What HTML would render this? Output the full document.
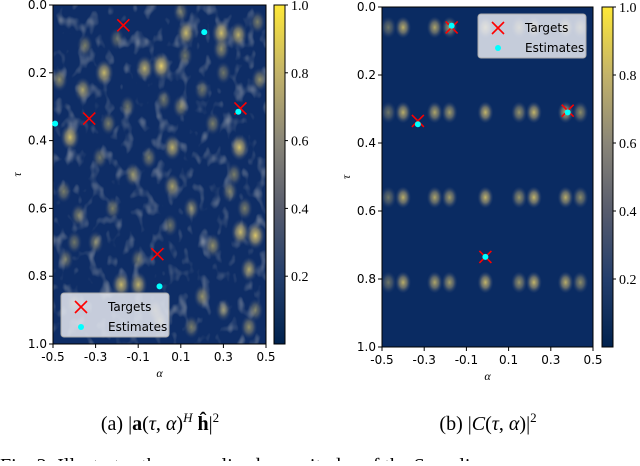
<!DOCTYPE html>
<html><head><meta charset="utf-8"><style>
body{margin:0;background:#fff;width:640px;height:461px;overflow:hidden}
svg text{font-family:"DejaVu Sans","Liberation Sans",sans-serif}
.ser{font-family:"Liberation Serif",serif}
</style></head><body>
<svg id="s" width="640" height="461">
<defs>
<linearGradient id="cb" x1="0" y1="1" x2="0" y2="0">
<stop offset="0" stop-color="#00224e"/><stop offset="0.2" stop-color="#233e6c"/>
<stop offset="0.4" stop-color="#575c6d"/><stop offset="0.6" stop-color="#8a8678"/>
<stop offset="0.8" stop-color="#c3b369"/><stop offset="1" stop-color="#fee838"/></linearGradient>
<radialGradient id="bl"><stop offset="0" stop-color="#e6cf6a" stop-opacity="1"/><stop offset="0.5" stop-color="#a89c72" stop-opacity="0.7"/><stop offset="1" stop-color="#3a4e78" stop-opacity="0"/></radialGradient>
<clipPath id="cl"><rect x="53" y="5" width="213" height="339"/></clipPath>
<clipPath id="cr"><rect x="382" y="7" width="211" height="340"/></clipPath>
<filter id="tex" x="0" y="0" width="100%" height="100%">
<feTurbulence type="fractalNoise" baseFrequency="0.09 0.06" numOctaves="2" seed="7"/>
<feColorMatrix type="matrix" values="0 0 0 0 0.42  0 0 0 0 0.44  0 0 0 0 0.46  0 0 0 2.4 -1.3"/>
</filter>
</defs>
<g id="L"></g>
<g id="R"></g>
<text class="ser" x="160" y="430" font-size="20" text-anchor="middle">(a) |<tspan font-weight="bold">a</tspan>(<tspan font-style="italic">τ</tspan>, <tspan font-style="italic">α</tspan>)<tspan dy="-8" font-size="13" font-style="italic">H</tspan><tspan dy="8" font-weight="bold"> ĥ</tspan>|<tspan dy="-8" font-size="13">2</tspan></text>
<text class="ser" x="488" y="430" font-size="20" text-anchor="middle">(b) |<tspan font-style="italic">C</tspan>(<tspan font-style="italic">τ</tspan>, <tspan font-style="italic">α</tspan>)|<tspan dy="-8" font-size="13">2</tspan></text>
<text class="ser" x="0" y="472" font-size="20">Fig. 2: Illustrates the normalized magnitudes of the Sampling</text>
</svg>
<script>
const ticksX=[-0.5,-0.3,-0.1,0.1,0.3,0.5];
const ticksY=[0.0,0.2,0.4,0.6,0.8,1.0];
const cbTicks=[0.2,0.4,0.6,0.8,1.0];
const blobsA=[-0.47,-0.42,-0.36,-0.26,-0.07,0.008,0.125,0.29,0.37,0.29,0.47,0.06,0.375,-0.125,0.06,0.45,0.38,0.25,0.42,-0.18,-0.1,0,0.2,0.42,-0.3,-0.22,0.15,0.33,-0.45,-0.05,0.1,0.25,-0.35,-0.4,0.3,0.45,-0.15,0.15,-0.28,0.05,0.35,-0.4,0.2,-0.1,0.4,-0.2,0.1,-0.24,0.02,0.3,-0.38,0.12,-0.02,0.46,-0.44];
const blobsT=[0.22,0.39,0.25,0.2,0.187,0.18,0.083,0.083,0.088,0.13,0.22,0.42,0.42,0.5,0.535,0.68,0.67,0.71,0.78,0.825,0.825,0.93,0.86,0.95,0.7,0.6,0.6,0.55,0.55,0.45,0.3,0.35,0.12,0.88,0.9,0.9,0.3,0.95,0.45,0.65,0.5,0.7,0.25,0.75,0.6,0.1,0.02,0.35,0.28,0.2,0.62,0.15,0.9,0.05,0.75];
const blobsV=[0.6,0.9,0.7,0.85,0.8,1,0.85,0.9,0.8,0.6,0.6,0.8,0.9,0.6,0.7,0.95,0.85,0.6,0.7,0.85,0.8,0.6,0.6,0.6,0.5,0.5,0.55,0.5,0.5,0.5,0.55,0.5,0.5,0.5,0.5,0.5,0.45,0.5,0.45,0.45,0.5,0.45,0.45,0.45,0.5,0.4,0.45,0.5,0.45,0.45,0.5,0.45,0.5,0.5,0.45];
const gridA=[-0.47,-0.40,-0.25,-0.18,-0.01,0.15,0.22,0.37,0.44];
const gridT=[0.06,0.31,0.56,0.81];
const gridV=[0.45,0.8,0.75,0.7,0.85,0.65,0.85,0.8,0.6];
const targetsA=[-0.17,-0.33,0.38,-0.01];
const targetsT=[0.06,0.335,0.305,0.735];
const estLA=[0.21,-0.49,0.37,0.0];
const estLT=[0.08,0.35,0.315,0.83];
const estRA=[-0.17,-0.33,0.38,-0.01];
const estRT=[0.055,0.345,0.31,0.735];
const NS='http://www.w3.org/2000/svg';
function mk(p,t,a){const e=document.createElementNS(NS,t);for(const k in a)e.setAttribute(k,a[k]);p.appendChild(e);return e;}
function panel(g,x0,x1,y0,y1,cbx,clip,blobs,tA,tT,eA,eT,legX,legY,isL){
 const sx=a=>x0+(a+0.5)*(x1-x0), sy=t=>y0+t*(y1-y0);
 const bg=mk(g,'rect',{x:x0,y:y0,width:x1-x0,height:y1-y0,fill:isL?'#0e2d66':'#0a2b62'});
 
 const bgrp=mk(g,'g',{'clip-path':'url(#'+clip+')'});
 if(isL){mk(bgrp,'rect',{x:x0,y:y0,width:x1-x0,height:y1-y0,filter:'url(#tex)',opacity:0.7});}
 blobs(bgrp,sx,sy);
 mk(g,'rect',{x:x0,y:y0,width:x1-x0,height:y1-y0,fill:'none',stroke:'#000','stroke-width':1});
 ticksX.forEach(v=>{const x=sx(v);mk(g,'line',{x1:x,x2:x,y1:y1,y2:y1+4,stroke:'#000'});
  const t=mk(g,'text',{x:x,y:y1+17,'font-size':12,'text-anchor':'middle'});t.textContent=v.toFixed(1);
  });
 ticksY.forEach(v=>{const y=sy(v);mk(g,'line',{x1:x0-4,x2:x0,y1:y,y2:y,stroke:'#000'});
  const t=mk(g,'text',{x:x0-6,y:y+4,'font-size':12,'text-anchor':'end'});t.textContent=v.toFixed(1);
  });
 const xl=mk(g,'text',{x:(x0+x1)/2,y:y1+33,'font-size':12,'font-style':'italic',class:'ser','text-anchor':'middle'});xl.textContent='α';
 
 const yl=mk(g,'text',{x:x0-36,y:(y0+y1)/2+4,'font-size':12,'font-style':'italic',class:'ser','text-anchor':'middle',transform:`rotate(-90 ${x0-36} ${(y0+y1)/2})`});yl.textContent='τ';
 
 const cb=mk(g,'rect',{x:cbx,y:y0,width:11,height:y1-y0,fill:'url(#cb)',stroke:'#000','stroke-width':1});
 
 cbTicks.forEach(v=>{const y=y1-v*(y1-y0);mk(g,'line',{x1:cbx+11,x2:cbx+14,y1:y,y2:y,stroke:'#000'});
  const t=mk(g,'text',{x:cbx+17,y:y+5,'font-size':14,class:'ser'});t.textContent=v.toFixed(1);
  });
 tT.forEach((t,i)=>{const x=sx(tA[i]),y=sy(t);const m=mk(g,'path',{d:`M${x-6},${y-6}L${x+6},${y+6}M${x-6},${y+6}L${x+6},${y-6}`,stroke:'#ff0000','stroke-width':1.6,fill:'none'});
  });
 eT.forEach((t,i)=>{const c=mk(g,'circle',{cx:sx(eA[i]),cy:sy(t),r:3,fill:'#00ffff'});
  });
 const lg=mk(g,'g',{});
 mk(lg,'rect',{x:legX,y:legY,width:108,height:44,rx:3,fill:'#e6e9f0','fill-opacity':0.85,stroke:'#aaa'});
 mk(lg,'path',{d:`M${legX+14},${legY+8}L${legX+26},${legY+20}M${legX+14},${legY+20}L${legX+26},${legY+8}`,stroke:'#ff0000','stroke-width':1.6});
 mk(lg,'circle',{cx:legX+20,cy:legY+34,r:3,fill:'#00ffff'});
 let t=mk(lg,'text',{x:legX+47,y:legY+18,'font-size':12});t.textContent='Targets';
 t=mk(lg,'text',{x:legX+47,y:legY+38,'font-size':12});t.textContent='Estimates';
}
panel(document.getElementById('L'),53,266,5,344,274,'cl',(gr,sx,sy)=>{
 blobsT.forEach((t,i)=>{const v=blobsV[i];const e=mk(gr,'ellipse',{cx:sx(blobsA[i]),cy:sy(t),rx:6+4*v,ry:9+5*v,fill:'url(#bl)',opacity:v});
  });
},targetsA,targetsT,estLA,estLT,61,293,true);
panel(document.getElementById('R'),382,593,7,347,602,'cr',(gr,sx,sy)=>{
 gridT.forEach(t=>gridA.forEach((a,j)=>{const v=gridV[j];const e=mk(gr,'ellipse',{cx:sx(a),cy:sy(t),rx:8,ry:11,fill:'url(#bl)',opacity:v});
  }));
},targetsA,targetsT,estRA,estRT,478,14,false);
</script>
</body></html>
